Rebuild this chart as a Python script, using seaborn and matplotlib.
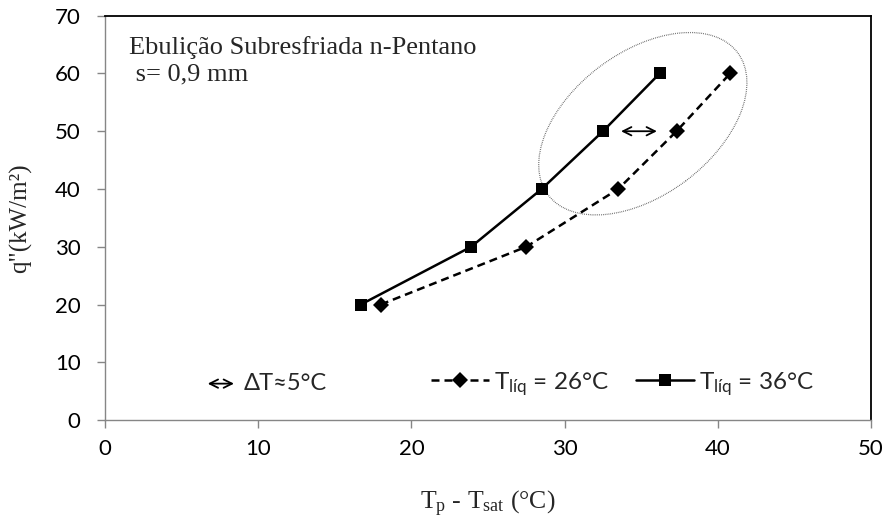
import matplotlib.pyplot as plt
import seaborn as sns
from matplotlib.patches import Ellipse
from matplotlib.transforms import ScaledTranslation

# dados
q_flux = [20, 30, 40, 50, 60]
dt_26 = [18.0, 27.5, 33.5, 37.3, 40.8]
dt_36 = [16.7, 23.9, 28.5, 32.5, 36.2]
x_ticks = [0, 10, 20, 30, 40, 50]
y_ticks = [0, 10, 20, 30, 40, 50, 60, 70]

sns.set_style('ticks')
plt.rcParams['font.family'] = ['Lato', 'DejaVu Sans']
plt.rcParams['mathtext.fontset'] = 'custom'
plt.rcParams['mathtext.rm'] = 'Liberation Serif'
plt.rcParams['mathtext.sf'] = 'Lato'

fig = plt.figure(figsize=(8.88, 5.29), dpi=100)
ax = fig.add_axes([0.1182, 0.206, 0.8628, 0.7643])

sns.lineplot(x=dt_26, y=q_flux, ax=ax, sort=False, color='black', linestyle=(0, (3.2, 2.0)),
             linewidth=1.8, marker='D', markersize=8, markeredgewidth=0,
             label=r'$\mathsf{T_{líq}}$ = 26°C')
sns.lineplot(x=dt_36, y=q_flux, ax=ax, sort=False, color='black', linestyle='-',
             linewidth=1.8, marker='s', markersize=9.2, markeredgewidth=0,
             label=r'$\mathsf{T_{líq}}$ = 36°C')

ax.set_xlim(0, 50)
ax.set_ylim(0, 70)
ax.set_xticks(x_ticks)
ax.set_yticks(y_ticks)

for side in ['left', 'bottom']:
    ax.spines[side].set_color('#868686')
    ax.spines[side].set_linewidth(1.0)
for side in ['top', 'right']:
    ax.spines[side].set_visible(True)
    ax.spines[side].set_color('black')
    ax.spines[side].set_linewidth(1.3)

ax.tick_params(axis='both', direction='out', color='#868686', length=5.5, width=1,
               labelsize=16, labelcolor='black')
ax.tick_params(axis='y', pad=12)
ax.tick_params(axis='x', pad=8)

ax.set_xlabel(r'$\mathrm{T_p}$ - $\mathrm{T_{sat}}$ (°C)', family='Liberation Serif',
              fontsize=18.5, labelpad=22)
ax.set_ylabel('q"(kW/m²)', family='Liberation Serif', fontsize=18, labelpad=16)

ax.text(0.032, 0.906, 'Ebulição Subresfriada n-Pentano', transform=ax.transAxes,
        family='Liberation Serif', fontsize=19, va='baseline', ha='left')
ax.text(0.032, 0.84, ' s= 0,9 mm', transform=ax.transAxes,
        family='Liberation Serif', fontsize=19, va='baseline', ha='left')

# elipse pontilhada destacando a região de maior fluxo
ell = Ellipse((0, 0), width=2.37, height=1.43, angle=36.8, fill=False, edgecolor='#555555',
              linestyle=(0, (0.6, 0.9)), linewidth=0.9,
              transform=fig.dpi_scale_trans + ScaledTranslation(35.1, 51.3, ax.transData))
ax.add_patch(ell)

ax.annotate('', xy=(33.5, 50), xytext=(36.2, 50),
            arrowprops=dict(arrowstyle='<->', color='black', lw=1.3, mutation_scale=15))

# legenda
ax.annotate('', xy=(0.1305, 0.09), xytext=(0.172, 0.09), xycoords='axes fraction',
            arrowprops=dict(arrowstyle='<->', color='black', lw=1.3, mutation_scale=15))
ax.text(0.181, 0.09, 'ΔT≈5°C', transform=ax.transAxes, fontsize=17, va='center', ha='left')

leg = ax.legend(loc='center left', bbox_to_anchor=(0.425, 0.09), ncol=2, frameon=False,
                fontsize=17.5, handlelength=2.4, handletextpad=0.2, columnspacing=1.1,
                borderpad=0, borderaxespad=0)

fig.savefig('out.png', dpi=100, facecolor='white')
